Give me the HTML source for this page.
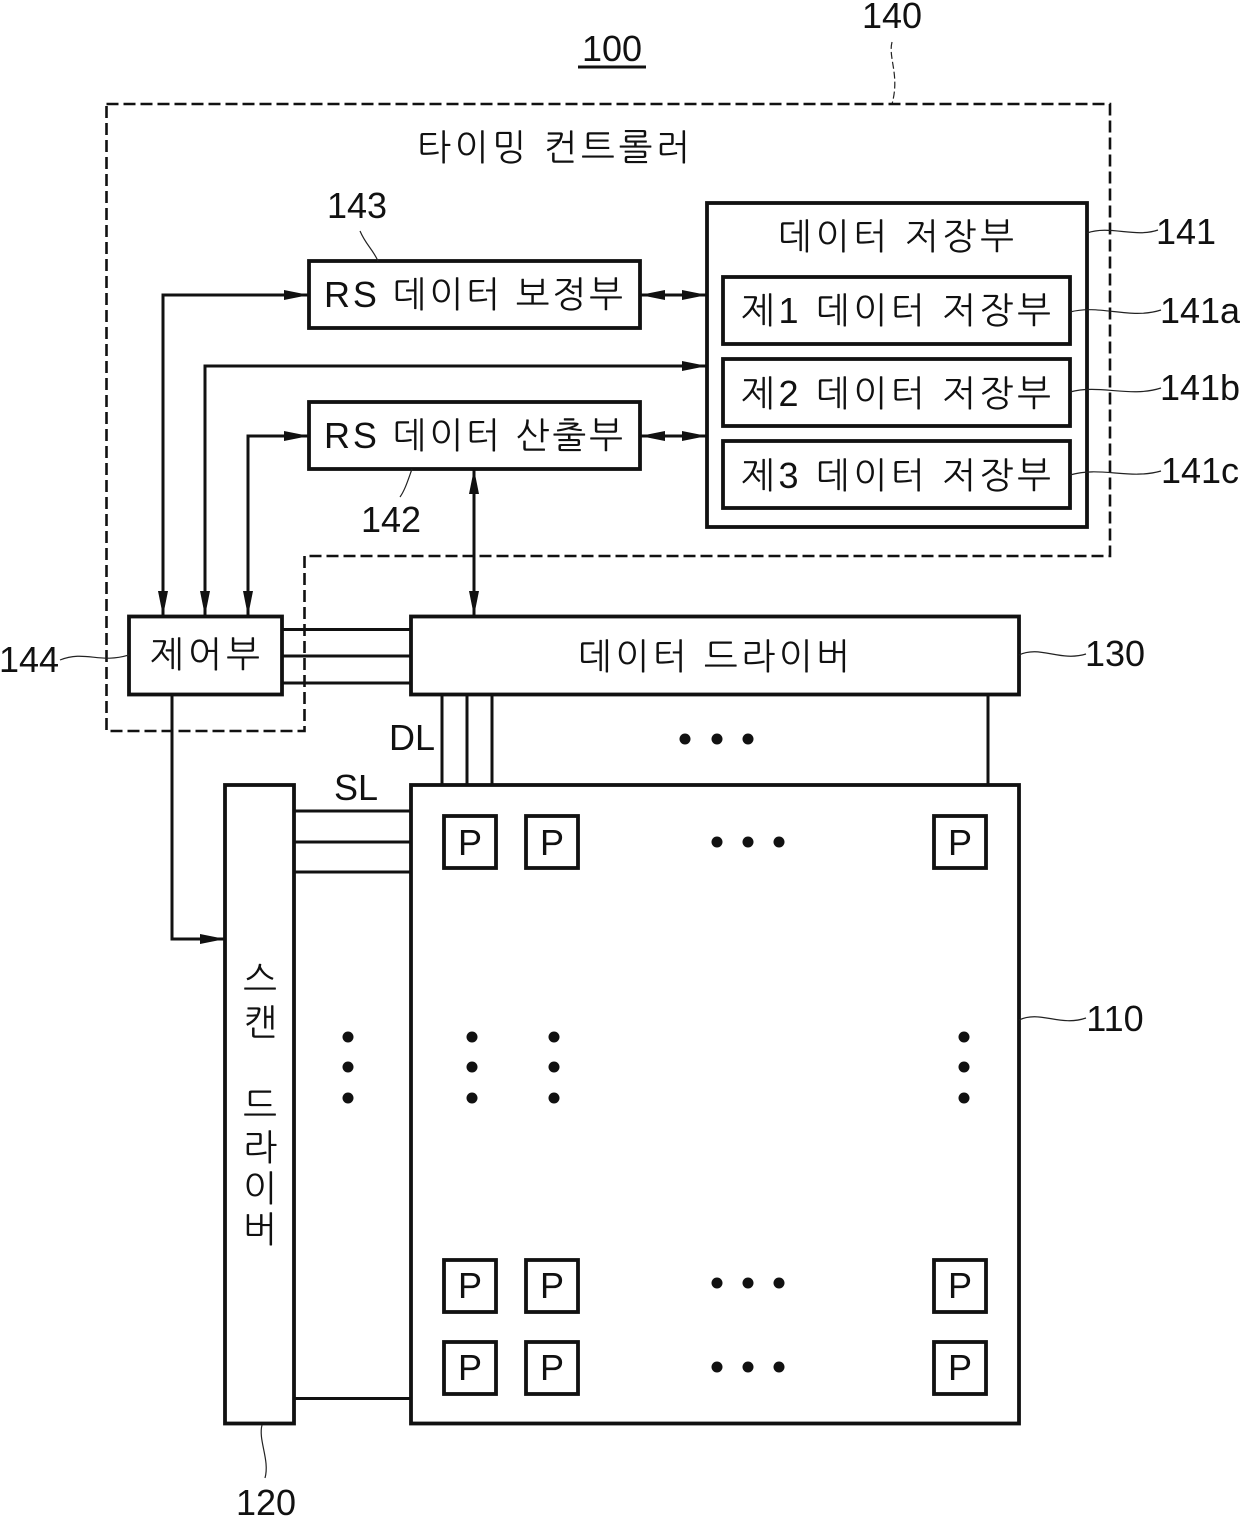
<!DOCTYPE html>
<html><head><meta charset="utf-8"><style>
html,body{margin:0;padding:0;background:#fff}
svg{display:block}
text{font-family:"Liberation Sans","NanumGothic","Noto Sans CJK KR",sans-serif;fill:#111;font-size:36px;text-anchor:middle;dominant-baseline:auto}
.k{font-size:36px}
.b{fill:none;stroke:#111;stroke-width:3.8}
.l{fill:none;stroke:#111;stroke-width:3}
.t{fill:none;stroke:#222;stroke-width:1.2}
.d{fill:none;stroke:#111;stroke-width:2.6;stroke-dasharray:12 5}
</style></head><body>
<svg width="1240" height="1518" viewBox="0 0 1240 1518" xmlns="http://www.w3.org/2000/svg">
<defs>
<marker id="a" markerWidth="26" markerHeight="14" refX="25" refY="7" orient="auto-start-reverse" markerUnits="userSpaceOnUse"><path d="M0 2L25 7L0 12Z" fill="#111"/></marker>
</defs>
<text x="612" y="61">100</text><path d="M578 67H646" class="l"/>
<text x="892" y="28">140</text>
<path d="M892 42C888 58 900 75 892 104" class="t" stroke-dasharray="7 3"/>
<path d="M106.5 104H1110V556H304.5V731H106.5Z" class="d"/>
<text x="553.5" y="160" class="k" textLength="273">타이밍 컨트롤러</text>

<rect x="707" y="203" width="380" height="324" class="b"/>
<text x="896" y="249" class="k" textLength="236">데이터 저장부</text>
<rect x="723" y="277" width="347" height="67" class="b"/>
<text x="896" y="323" class="k" textLength="310">제1 데이터 저장부</text>
<rect x="723" y="359" width="347" height="67" class="b"/>
<text x="896" y="406" class="k" textLength="310">제2 데이터 저장부</text>
<rect x="723" y="441" width="347" height="67" class="b"/>
<text x="896" y="488" class="k" textLength="310">제3 데이터 저장부</text>

<rect x="309" y="261" width="331" height="67" class="b"/>
<text x="473.5" y="307" class="k" textLength="299">RS 데이터 보정부</text>
<rect x="309" y="402" width="331" height="67" class="b"/>
<text x="473.5" y="448" class="k" textLength="299">RS 데이터 산출부</text>
<text x="357" y="218">143</text>
<path d="M360 231C366 245 372 248 378 261" class="t"/>
<text x="391" y="532">142</text>
<path d="M400 497C405 490 408 480 412 469" class="t"/>

<path d="M640 295H707" class="l" marker-start="url(#a)" marker-end="url(#a)"/>
<path d="M640 436H707" class="l" marker-start="url(#a)" marker-end="url(#a)"/>
<path d="M163 616V295H309" class="l" marker-start="url(#a)" marker-end="url(#a)"/>
<path d="M205 616V366H707" class="l" marker-start="url(#a)" marker-end="url(#a)"/>
<path d="M248 616V436H309" class="l" marker-start="url(#a)" marker-end="url(#a)"/>
<path d="M474 469V616" class="l" marker-start="url(#a)" marker-end="url(#a)"/>

<rect x="129" y="616.5" width="153" height="78" class="b"/>
<text x="205" y="667" class="k" textLength="110">제어부</text>
<rect x="411" y="616.5" width="608" height="78" class="b"/>
<text x="714" y="669" class="k" textLength="272">데이터 드라이버</text>
<path d="M282 629.5H411M282 656H411M282 683H411" class="l"/>
<text x="29" y="672">144</text>
<path d="M60 660C85 650 100 664 129 655" class="t"/>
<text x="1115" y="666">130</text>
<path d="M1019 655C1040 645 1060 662 1086 654" class="t"/>

<path d="M442 694V785M467 694V785M492 694V785M988 694V785" class="l"/>
<text x="412" y="750">DL</text>
<circle cx="685" cy="739" r="5.5" fill="#111"/><circle cx="717" cy="739" r="5.5" fill="#111"/><circle cx="748" cy="739" r="5.5" fill="#111"/>

<path d="M172 694V939H225" class="l" marker-end="url(#a)"/>
<rect x="225" y="785" width="69" height="638.5" class="b"/>
<rect x="411" y="785" width="608" height="638.5" class="b"/>
<text x="356" y="800">SL</text>
<path d="M294 811H411M294 842H411M294 872H411M294 1398.5H411" class="l"/>

<g>
<text x="260" y="992" class="k">스</text><text x="260" y="1035" class="k">캔</text>
<text x="260" y="1118" class="k">드</text><text x="260" y="1160" class="k">라</text><text x="260" y="1201" class="k">이</text><text x="260" y="1242" class="k">버</text>
</g>

<g>
<rect x="444" y="816" width="52" height="52" class="b"/><text x="470" y="855">P</text>
<rect x="526" y="816" width="52" height="52" class="b"/><text x="552" y="855">P</text>
<rect x="934" y="816" width="52" height="52" class="b"/><text x="960" y="855">P</text>
<rect x="444" y="1260" width="52" height="52" class="b"/><text x="470" y="1298">P</text>
<rect x="526" y="1260" width="52" height="52" class="b"/><text x="552" y="1298">P</text>
<rect x="934" y="1260" width="52" height="52" class="b"/><text x="960" y="1298">P</text>
<rect x="444" y="1342" width="52" height="52" class="b"/><text x="470" y="1380">P</text>
<rect x="526" y="1342" width="52" height="52" class="b"/><text x="552" y="1380">P</text>
<rect x="934" y="1342" width="52" height="52" class="b"/><text x="960" y="1380">P</text>
</g>

<g fill="#111">
<circle cx="717" cy="842" r="5.5"/><circle cx="748" cy="842" r="5.5"/><circle cx="779" cy="842" r="5.5"/>
<circle cx="717" cy="1283" r="5.5"/><circle cx="748" cy="1283" r="5.5"/><circle cx="779" cy="1283" r="5.5"/>
<circle cx="717" cy="1367" r="5.5"/><circle cx="748" cy="1367" r="5.5"/><circle cx="779" cy="1367" r="5.5"/>
<circle cx="348" cy="1037" r="5.5"/><circle cx="348" cy="1067" r="5.5"/><circle cx="348" cy="1098" r="5.5"/>
<circle cx="472" cy="1037" r="5.5"/><circle cx="472" cy="1067" r="5.5"/><circle cx="472" cy="1098" r="5.5"/>
<circle cx="554" cy="1037" r="5.5"/><circle cx="554" cy="1067" r="5.5"/><circle cx="554" cy="1098" r="5.5"/>
<circle cx="964" cy="1037" r="5.5"/><circle cx="964" cy="1067" r="5.5"/><circle cx="964" cy="1098" r="5.5"/>
</g>

<text x="1186" y="244">141</text>
<path d="M1087 233C1110 225 1135 238 1158 230" class="t"/>
<text x="1200" y="323">141a</text>
<path d="M1070 312C1100 304 1130 320 1161 310" class="t"/>
<text x="1200" y="400">141b</text>
<path d="M1070 392C1100 384 1130 398 1161 388" class="t"/>
<text x="1200" y="483">141c</text>
<path d="M1070 475C1100 466 1130 480 1161 471" class="t"/>
<text x="1115" y="1031">110</text>
<path d="M1019 1020C1040 1010 1060 1027 1086 1018" class="t"/>
<text x="266" y="1515">120</text>
<path d="M262 1425C258 1440 270 1460 265 1478" class="t"/>
</svg>
</body></html>
